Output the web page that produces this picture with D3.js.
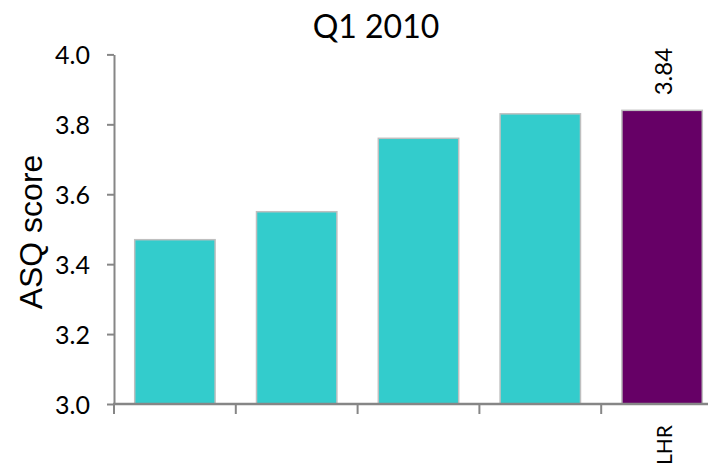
<!DOCTYPE html>
<html><head><meta charset="utf-8">
<script src="https://cdn.jsdelivr.net/npm/d3@7"></script>
<style>body{margin:0;background:#fff}</style>
</head><body>
<script>
const categories = ["c1", "c2", "c3", "c4", "LHR"];
const categoryLabels = ["", "", "", "", "LHR"];
const values = [3.47, 3.55, 3.76, 3.83, 3.84];
const highlight = [false, false, false, false, true];
const yTicks = [3.0, 3.2, 3.4, 3.6, 3.8, 4.0];
const title = "Q1 2010";
const yTitle = "ASQ score";
const valueLabels = [null, null, null, null, "3.84"];

const W = 708, H = 464;
const svg = d3.select("body").append("svg").attr("width", W).attr("height", H);

const x = d3.scaleBand().domain(categories).range([114, 723]).paddingInner(0.34).paddingOuter(0.17);
const y = d3.scaleLinear().domain([3.0, 4.0]).range([404, 54.4]);
const step = x.step();

// bars
svg.selectAll("rect.bar").data(categories).enter().append("rect")
  .attr("class", "bar")
  .attr("x", d => x(d))
  .attr("width", x.bandwidth())
  .attr("y", (d, i) => y(values[i]))
  .attr("height", (d, i) => y(3.0) - y(values[i]))
  .attr("fill", (d, i) => highlight[i] ? "#660066" : "#33CCCC")
  .attr("stroke", "#BFBFBF").attr("stroke-width", 1.5);

// y axis
const yAxis = d3.axisLeft(y).tickValues(yTicks).tickFormat(d3.format(".1f")).tickSize(7).tickSizeOuter(0).tickPadding(17);
const gy = svg.append("g").attr("transform", "translate(114,0)").call(yAxis)
  .attr("font-family", "Lato").attr("font-size", 25);
gy.select(".domain").attr("stroke", "#868686").attr("stroke-width", 2);
gy.selectAll(".tick line").attr("stroke", "#868686").attr("stroke-width", 2);
gy.selectAll(".tick text").style("font-family", "Lato").style("font-size", "25px").attr("fill", "#000").attr("dy", "0.36em");

// x axis
svg.append("line").attr("x1", 113).attr("x2", 723).attr("y1", 404).attr("y2", 404)
  .attr("stroke", "#868686").attr("stroke-width", 2.5);
const boundaries = categories.map(c => x(c) - step * x.paddingInner() / 2);
svg.selectAll("line.xt").data(boundaries).enter().append("line")
  .attr("class", "xt")
  .attr("x1", d => d).attr("x2", d => d).attr("y1", 404).attr("y2", 414)
  .attr("stroke", "#868686").attr("stroke-width", 2);

// category labels (rotated)
svg.selectAll("text.cat").data(categories).enter().append("text")
  .attr("class", "cat")
  .attr("transform", d => `translate(${x(d) + x.bandwidth() / 2 + 10},425) rotate(-90)`)
  .attr("text-anchor", "end")
  .style("font-family", "Lato").style("font-size", "21px")
  .text((d, i) => categoryLabels[i]);

// value labels
svg.selectAll("text.val").data(categories).enter().append("text")
  .attr("class", "val")
  .attr("transform", (d, i) => `translate(${x(d) + x.bandwidth() / 2 + 10},${y(values[i]) - 15}) rotate(-90)`)
  .attr("text-anchor", "start")
  .style("font-family", "Lato").style("font-size", "24px")
  .text((d, i) => valueLabels[i] || "");

// title
svg.append("text").attr("x", 376).attr("y", 38).attr("text-anchor", "middle")
  .style("font-family", "Lato").style("font-size", "32px").text(title);

// y title
svg.append("text").attr("transform", "translate(42,232) rotate(-90)").attr("text-anchor", "middle")
  .style("font-family", "Liberation Sans").style("font-size", "32px").text(yTitle);
</script>
</body></html>
